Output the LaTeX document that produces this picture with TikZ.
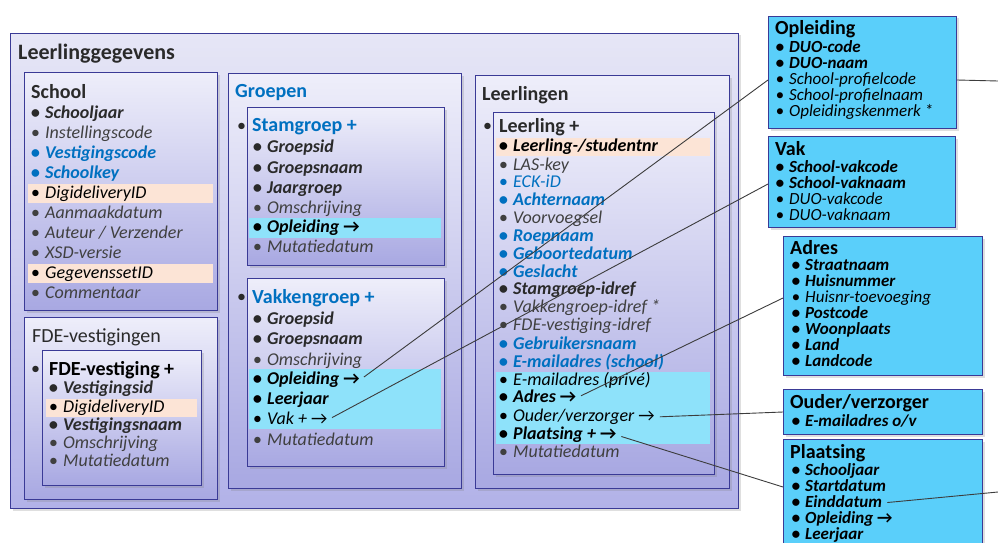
\documentclass[tikz,border=0pt]{standalone}
\usepackage{fontspec}
\setmainfont{Carlito}
\usetikzlibrary{shadows}

\definecolor{boxline}{RGB}{58,58,150}
\definecolor{outtop}{RGB}{230,230,246}
\definecolor{outbot}{RGB}{178,178,232}
\definecolor{lavtop}{RGB}{238,238,250}
\definecolor{lavbot}{RGB}{168,168,226}
\definecolor{cyanbox}{RGB}{90,207,250}
\definecolor{hlcyan}{RGB}{142,226,250}
\definecolor{hlorange}{RGB}{252,228,214}
\definecolor{txtgray}{RGB}{64,64,64}
\definecolor{txtdark}{RGB}{42,42,42}
\definecolor{txtblue}{RGB}{0,112,192}
\definecolor{lnkgray}{RGB}{60,60,60}

\newcommand{\bul}{\makebox[0.8em][l]{•}}
\newcommand{\arr}{{\upshape →}}
\newcommand{\attsz}{\fontsize{18}{20}\selectfont}
\newcommand{\ttlsz}{\fontsize{20}{24}\selectfont}

\tikzset{
    frame/.style = {draw=boxline, line width=1pt, anchor=north west, inner sep=0pt,
                    drop shadow={shadow xshift=2pt, shadow yshift=-2pt, opacity=0.25}},
    grp/.style   = {frame, top color=lavtop, bottom color=lavbot},
    ent/.style   = {frame, fill=cyanbox},
    ttl/.style   = {anchor=west, inner sep=0pt, text=txtdark, font=\ttlsz\bfseries},
    blt/.style   = {anchor=west, inner sep=0pt, text=txtdark, font=\attsz},
    att/.style   = {anchor=west, inner sep=0pt, text height=12pt, text depth=3.5pt,
                    text=txtgray, font=\attsz\itshape},
    attb/.style  = {att, text=txtdark, font=\attsz\bfseries\itshape},
    attk/.style  = {att, text=black},
    attkb/.style = {attb, text=black},
    attbl/.style = {attb, text=txtblue},
    attbli/.style= {att, text=txtblue},
    lnk/.style   = {draw=lnkgray, line width=0.9pt},
}

\begin{document}
\begin{tikzpicture}[x=1pt,y=-1pt]
\useasboundingbox (0,0) rectangle (998,543);

% ---- Leerlinggegevens
\node[grp, top color=outtop, bottom color=outbot, minimum width=728pt, minimum height=475pt] (lg) at (10,33) {};
\node[ttl, font=\fontsize{22}{26}\selectfont\bfseries] (tlg) at (18,54) {Leerlinggegevens};

% School
\node[grp, minimum width=193pt, minimum height=238pt] (school) at (24,72) {};
\fill[hlorange] (28,184) rectangle (213,203);
\fill[hlorange] (28,264) rectangle (213,283);
\node[ttl] (tschool) at (31,92) {School};
\node[attb]  (sch1)  at (30.6,114) {\bul Schooljaar};
\node[att]   (sch2)  at (30.6,134) {\bul Instellingscode};
\node[attbl] (sch3)  at (30.6,154) {\bul Vestigingscode};
\node[attbl] (sch4)  at (30.6,174) {\bul Schoolkey};
\node[attk]  (sch5)  at (30.6,194) {\bul DigideliveryID};
\node[att]   (sch6)  at (30.6,214) {\bul Aanmaakdatum};
\node[att]   (sch7)  at (30.6,234) {\bul Auteur / Verzender};
\node[att]   (sch8)  at (30.6,254) {\bul XSD-versie};
\node[attk]  (sch9)  at (30.6,274) {\bul GegevenssetID};
\node[att]   (sch10) at (30.6,294) {\bul Commentaar};

% FDE-vestigingen
\node[grp, minimum width=193pt, minimum height=182pt] (fdes) at (24,317) {};
\node[ttl, font=\ttlsz] (tfdes) at (32,337) {FDE-vestigingen};
\node[blt] (bfde) at (31,370) {•};
\node[grp, minimum width=159pt, minimum height=135pt] (fde) at (42,350) {};
\fill[hlorange] (46,399) rectangle (197,417);
\node[ttl, text=black] (tfde) at (49,370) {FDE-vestiging +};
\node[attb] (fde1) at (48.6,389) {\bul Vestigingsid};
\node[attk] (fde2) at (48.6,408) {\bul DigideliveryID};
\node[attb] (fde3) at (48.6,426) {\bul Vestigingsnaam};
\node[att]  (fde4) at (48.6,444) {\bul Omschrijving};
\node[att]  (fde5) at (48.6,462) {\bul Mutatiedatum};

% Groepen
\node[grp, minimum width=233pt, minimum height=415pt] (groepen) at (228,73) {};
\node[ttl, text=txtblue] (tgroepen) at (235,93) {Groepen};
\node[blt] (bstam) at (237,127) {•};
\node[grp, minimum width=197pt, minimum height=158pt] (stam) at (247,107) {};
\fill[hlcyan] (249,218) rectangle (441,238);
\node[ttl, text=txtblue] (tstam) at (252,127) {Stamgroep +};
\node[attb]  (st1) at (252.6,148) {\bul Groepsid};
\node[attb]  (st2) at (252.6,169) {\bul Groepsnaam};
\node[attb]  (st3) at (252.6,189) {\bul Jaargroep};
\node[att]   (st4) at (252.6,209) {\bul Omschrijving};
\node[attkb] (st5) at (252.6,228) {\bul Opleiding \arr};
\node[att]   (st6) at (252.6,248) {\bul Mutatiedatum};

\node[blt] (bvakgr) at (237,298) {•};
\node[grp, minimum width=197pt, minimum height=188pt] (vakgr) at (247,278) {};
\fill[hlcyan] (249,369) rectangle (441,429);
\node[ttl, text=txtblue] (tvakgr) at (252,298) {Vakkengroep +};
\node[attb]  (vg1) at (252.6,320) {\bul Groepsid};
\node[attb]  (vg2) at (252.6,340) {\bul Groepsnaam};
\node[att]   (vg3) at (252.6,361) {\bul Omschrijving};
\node[attkb] (vg4) at (252.6,380) {\bul Opleiding \arr};
\node[attkb] (vg5) at (252.6,400) {\bul Leerjaar};
\node[attk]  (vg6) at (252.6,420) {\bul Vak + \arr};
\node[att]   (vg7) at (252.6,441) {\bul Mutatiedatum};

% Leerlingen
\node[grp, minimum width=254pt, minimum height=413pt] (llingen) at (475,75) {};
\node[ttl] (tllingen) at (482,95) {Leerlingen};
\node[blt] (blling) at (483,127) {•};
\node[grp, minimum width=221pt, minimum height=362pt] (lling) at (493,112) {};
\fill[hlorange] (496,138) rectangle (710,156);
\fill[hlcyan] (496,372) rectangle (710,444);
\node[ttl] (tlling) at (499,127) {Leerling +};
\node[attkb]  (ll1)  at (498.6,147) {\bul Leerling-/studentnr};
\node[att]    (ll2)  at (498.6,166) {\bul LAS-key};
\node[attbli] (ll3)  at (498.6,183) {\bul ECK-iD};
\node[attbl]  (ll4)  at (498.6,201) {\bul Achternaam};
\node[att]    (ll5)  at (498.6,219) {\bul Voorvoegsel};
\node[attbl]  (ll6)  at (498.6,237) {\bul Roepnaam};
\node[attbl]  (ll7)  at (498.6,255) {\bul Geboortedatum};
\node[attbl]  (ll8)  at (498.6,273) {\bul Geslacht};
\node[attb]   (ll9)  at (498.6,290) {\bul Stamgroep-idref};
\node[att]    (ll10) at (498.6,308) {\bul Vakkengroep-idref *};
\node[att]    (ll11) at (498.6,326) {\bul FDE-vestiging-idref};
\node[attbl]  (ll12) at (498.6,345) {\bul Gebruikersnaam};
\node[attbl]  (ll13) at (498.6,363) {\bul E-mailadres (school)};
\node[attk]   (ll14) at (498.6,381) {\bul E-mailadres (privé)};
\node[attkb]  (ll15) at (498.6,398) {\bul Adres \arr};
\node[attk]   (ll16) at (498.6,417) {\bul Ouder/verzorger \arr};
\node[attkb]  (ll17) at (498.6,435) {\bul Plaatsing + \arr};
\node[att]    (ll18) at (498.6,453) {\bul Mutatiedatum};

% ---- gekoppelde entiteiten
\begin{scope}
\renewcommand{\attsz}{\fontsize{17}{19}\selectfont}
\node[ent, minimum width=188pt, minimum height=112pt] (opl) at (768,16) {};
\node[ttl, text=black] (topl) at (775,29) {Opleiding};
\node[attkb] (op1) at (775.4,48)  {\bul DUO-code};
\node[attkb] (op2) at (775.4,64)  {\bul DUO-naam};
\node[attk]  (op3) at (775.4,80)  {\bul School-profielcode};
\node[attk]  (op4) at (775.4,96)  {\bul School-profielnaam};
\node[attk]  (op5) at (775.4,112) {\bul Opleidingskenmerk *};

\node[ent, minimum width=187pt, minimum height=91pt] (vak) at (768,136) {};
\node[ttl, text=black] (tvak) at (775,149) {Vak};
\node[attkb] (vk1) at (775.4,168) {\bul School-vakcode};
\node[attkb] (vk2) at (775.4,184) {\bul School-vaknaam};
\node[attk]  (vk3) at (775.4,200) {\bul DUO-vakcode};
\node[attk]  (vk4) at (775.4,216) {\bul DUO-vaknaam};

\node[ent, minimum width=199pt, minimum height=139pt] (adres) at (783,236) {};
\node[ttl, text=black] (tadres) at (790,247.5) {Adres};
\node[attkb] (ad1) at (791.4,266.5) {\bul Straatnaam};
\node[attkb] (ad2) at (791.4,282) {\bul Huisnummer};
\node[attk]  (ad3) at (791.4,298) {\bul Huisnr-toevoeging};
\node[attkb] (ad4) at (791.4,314) {\bul Postcode};
\node[attkb] (ad5) at (791.4,330) {\bul Woonplaats};
\node[attkb] (ad6) at (791.4,346) {\bul Land};
\node[attkb] (ad7) at (791.4,362) {\bul Landcode};

\node[ent, minimum width=199pt, minimum height=45pt] (ouder) at (783,389) {};
\node[ttl, text=black] (touder) at (790,403) {Ouder/verzorger};
\node[attkb] (ov1) at (791.4,422) {\bul E-mailadres o/v};

\node[ent, minimum width=199pt, minimum height=118pt] (plaats) at (783,439) {};
\node[ttl, text=black] (tplaats) at (790,453) {Plaatsing};
\node[attkb] (pl1) at (791.4,471) {\bul Schooljaar};
\node[attkb] (pl2) at (791.4,487) {\bul Startdatum};
\node[attkb] (pl3) at (791.4,503) {\bul Einddatum};
\node[attkb] (pl4) at (791.4,519) {\bul Opleiding \arr};
\node[attkb] (pl5) at (791.4,535) {\bul Leerjaar};
\end{scope}

% ---- verbindingen
\coordinate (oplout) at (998,81);
\coordinate (plout) at (998,492);
\draw[lnk, shorten <=5pt] (vg4.east) -- (opl.west |- op3);
\draw[lnk, shorten <=5pt] (vg6.east) -- (vak.west |- vk2);
\draw[lnk, shorten <=5pt] (ll15.east) -- (adres.west |- ad3);
\draw[lnk, shorten <=5pt] (ll16.east) -- (ouder.west);
\draw[lnk, shorten <=5pt] (ll17.east) -- (plaats.west |- pl2);
\draw[lnk] (opl.east |- op3) -- (oplout);
\draw[lnk, shorten <=5pt] (pl3.east) -- (plout);
\end{tikzpicture}
\end{document}
